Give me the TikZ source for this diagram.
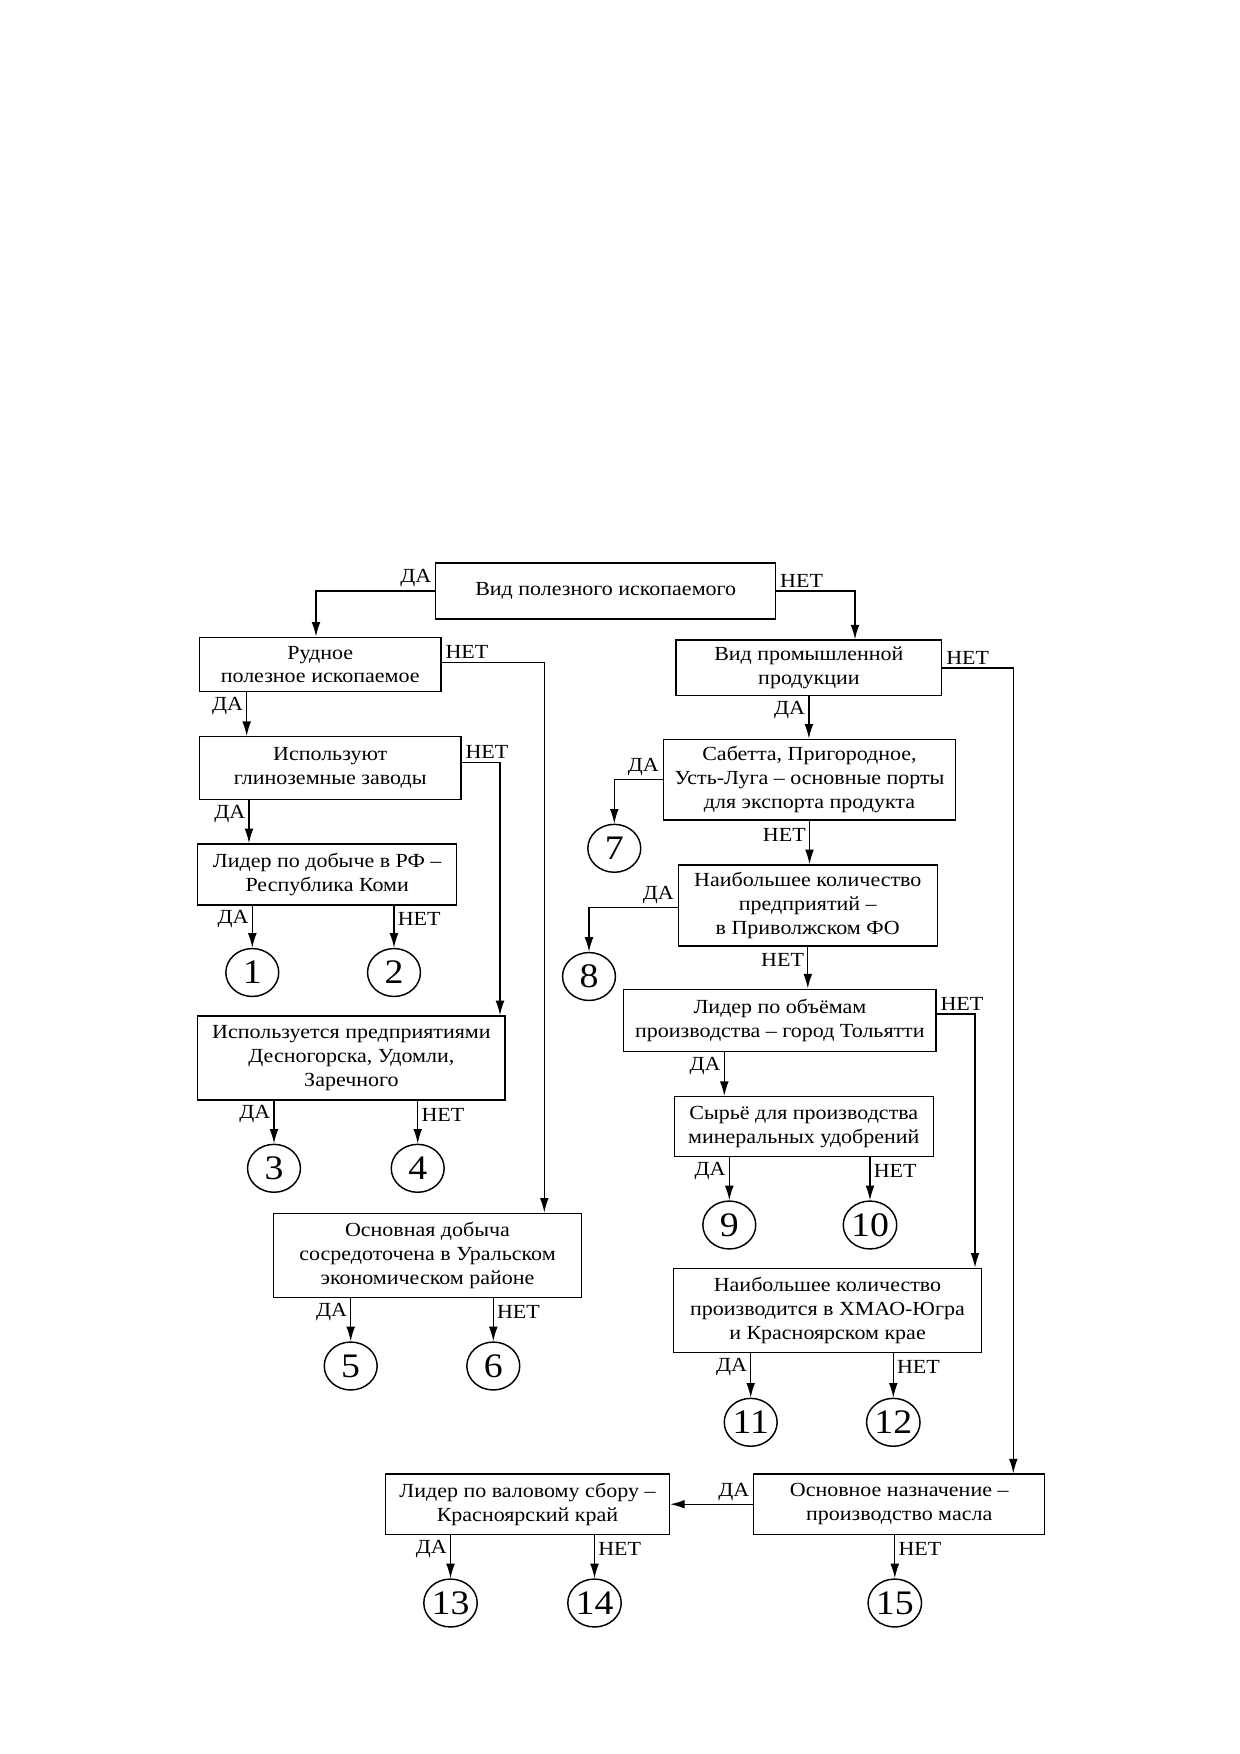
\documentclass[tikz,border=0pt]{standalone}
\usepackage{fontspec}
\setmainfont{Liberation Serif}[FakeStretch=1.1]
\usetikzlibrary{arrows.meta,shapes.geometric}

\newcommand*{\boxfont}{\fontsize{9.6}{11.4}\selectfont}
\newcommand*{\numfont}{\fontsize{16.5}{18}\selectfont}

\begin{document}
\begin{tikzpicture}[
    x=0.48pt, y=-0.48pt,
    box/.style={draw, line width=0.7pt, align=center, font=\boxfont, inner sep=1pt},
    circ/.style={draw, ellipse, line width=0.7pt, inner sep=0pt,
        minimum width=25.4pt, minimum height=23pt, font=\numfont},
    arr/.style={line width=0.65pt, -{Latex[length=7pt,width=4.2pt]}},
    da/.style={font=\boxfont, inner sep=1.5pt, pos=0.32, left},
    net/.style={font=\boxfont, inner sep=1.5pt, pos=0.32, right}
]
    \useasboundingbox (0,0) rectangle (1240,1754);

    % questions
    \node[box, minimum width=163.2pt, minimum height=27pt] (vid) at (605.7,590.9) {Вид полезного ископаемого};
    \node[box, minimum width=116pt, minimum height=26.1pt] (rud) at (320.2,664.5) {Рудное\\полезное ископаемое};
    \node[box, minimum width=125.6pt, minimum height=30.1pt] (isp) at (330.2,768.1) {Используют\\глиноземные заводы};
    \node[box, minimum width=124.3pt, minimum height=29.3pt] (komi) at (327.2,874.5) {Лидер по добыче в РФ –\\Республика Коми};
    \node[box, minimum width=147.5pt, minimum height=40.3pt] (desn) at (351.4,1058) {Используется предприятиями\\Десногорска, Удомли,\\Заречного};
    \node[box, minimum width=148pt, minimum height=40.5pt] (ural) at (427.5,1255.5) {Основная добыча\\сосредоточена в Уральском\\экономическом районе};
    \node[box, minimum width=127.5pt, minimum height=26.7pt] (prom) at (808.9,667.9) {Вид промышленной\\продукции};
    \node[box, minimum width=140.4pt, minimum height=38.7pt] (port) at (809.5,779.7) {Сабетта, Пригородное,\\Усть-Луга – основные порты\\для экспорта продукта};
    \node[box, minimum width=124.3pt, minimum height=38.9pt] (pfo) at (807.8,905.5) {Наибольшее количество\\предприятий –\\в Приволжском ФО};
    \node[box, minimum width=149.9pt, minimum height=30pt] (tol) at (779.9,1020.5) {Лидер по объёмам\\производства – город Тольятти};
    \node[box, minimum width=124.3pt, minimum height=28.8pt] (udob) at (803.8,1126.7) {Сырьё для производства\\минеральных удобрений};
    \node[box, minimum width=148pt, minimum height=40.3pt] (hmao) at (827.5,1310.3) {Наибольшее количество\\производится в ХМАО-Югра\\и Красноярском крае};
    \node[box, minimum width=136.2pt, minimum height=28.9pt] (kras) at (527.5,1504.2) {Лидер по валовому сбору –\\Красноярский край};
    \node[box, minimum width=139.7pt, minimum height=28.9pt] (maslo) at (899.2,1504.2) {Основное назначение –\\производство масла};

    % answers
    \foreach \n/\x/\y in {1/252.3/972.5, 2/394/972.5, 3/274/1168.3, 4/417.7/1168.3,
                          5/350.7/1366, 6/493.3/1366, 7/614.3/848.3, 8/589/976.5,
                          9/729.3/1225, 10/870/1225, 11/750.7/1422.3, 12/893.3/1422.3,
                          13/450.5/1603, 14/594.5/1603, 15/894.8/1603} {
        \node[circ] (c\n) at (\x,\y) {\n};
    }

    % ore branch
    \draw[arr] (vid.west) -| node[da, pos=0, above left] {ДА} (316,0 |- rud.north);
    \draw[arr] (rud.east |- 0,662.7) -| node[net, pos=0, above right] {НЕТ} (544.3,0 |- ural.north);
    \draw[arr] (rud.south -| 246.7,0) -- node[da] {ДА} (isp.north -| 246.7,0);
    \draw[arr] (isp.east |- 0,762.3) -| node[net, pos=0, above right] {НЕТ} (500,0 |- desn.north);
    \draw[arr] (isp.south -| 249,0) -- node[da] {ДА} (komi.north -| 249,0);

    % product branch
    \draw[arr] (vid.east) -| node[net, pos=0, above right] {НЕТ} (855,0 |- prom.north);
    \draw[arr] (prom.east) -| node[net, pos=0, above right] {НЕТ} (1013.3,0 |- maslo.north);
    \draw[arr] (prom.south) -- node[da] {ДА} (prom.south |- port.north);
    \draw[arr] (port.west) -| node[da, pos=0, above left] {ДА} (c7);
    \draw[arr] (port.south) -- node[net, left] {НЕТ} (port.south |- pfo.north);
    \draw[arr] (pfo.west |- 0,907.7) -| node[da, pos=0, above left] {ДА} (c8);
    \draw[arr] (pfo.south) -- node[net, left] {НЕТ} (pfo.south |- tol.north);
    \draw[arr] (tol.east |- 0,1014) -| node[net, pos=0, above right] {НЕТ} (975,0 |- hmao.north);
    \draw[arr] (tol.south -| 724.3,0) -- node[da] {ДА} (udob.north -| 724.3,0);
    \draw[arr] (maslo.west) -- node[da, pos=0, above left] {ДА} (kras.east);

    % to the answers
    \foreach \b/\l/\r in {komi/1/2, desn/3/4, ural/5/6, udob/9/10, hmao/11/12, kras/13/14} {
        \draw[arr] (\b.south -| c\l) -- node[da] {ДА} (c\l);
        \draw[arr] (\b.south -| c\r) -- node[net] {НЕТ} (c\r);
    }
    \draw[arr] (maslo.south -| c15) -- node[net] {НЕТ} (c15);
\end{tikzpicture}
\end{document}
